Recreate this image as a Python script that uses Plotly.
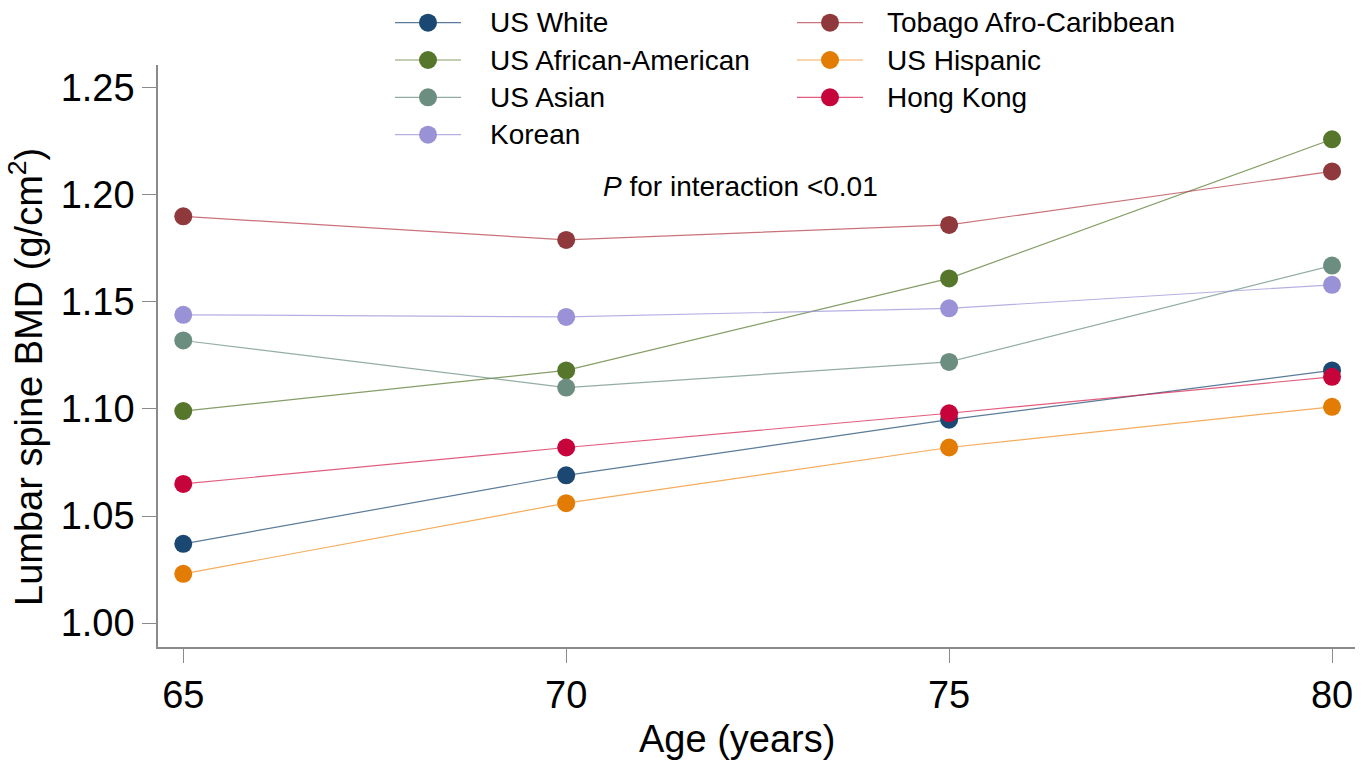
import plotly.graph_objects as go

ages = [65, 70, 75, 80]
y_ticks = [1.00, 1.05, 1.10, 1.15, 1.20, 1.25]

us_white = [1.037, 1.069, 1.095, 1.118]
us_african_american = [1.099, 1.118, 1.161, 1.226]
us_asian = [1.132, 1.110, 1.122, 1.167]
korean = [1.144, 1.143, 1.147, 1.158]
tobago = [1.190, 1.179, 1.186, 1.211]
us_hispanic = [1.023, 1.056, 1.082, 1.101]
hong_kong = [1.065, 1.082, 1.098, 1.115]

series = [
    ("US White", us_white, "#1b4872", "rgba(27,72,114,0.72)"),
    ("US African-American", us_african_american, "#56772b", "rgba(86,119,43,0.72)"),
    ("US Asian", us_asian, "#6b8e80", "rgba(107,142,128,0.72)"),
    ("Korean", korean, "#9a92d7", "rgba(154,146,215,0.72)"),
    ("Tobago Afro-Caribbean", tobago, "#8f393d", "rgba(180,60,70,0.72)"),
    ("US Hispanic", us_hispanic, "#e27c04", "rgba(240,140,30,0.72)"),
    ("Hong Kong", hong_kong, "#c6033b", "rgba(215,30,75,0.72)"),
]

FONT = "Liberation Sans, Arial, sans-serif"
W, H = 1372, 765
L, R, T, B = 158, 17, 65, 118
PW, PH = W - L - R, H - T - B


def px_x(x):
    return (x - L) / PW


def px_y(y):
    return (H - B - y) / PH


fig = go.Figure()
for name, vals, mcol, lcol in series:
    fig.add_trace(go.Scatter(
        x=ages, y=vals, name=name, mode="lines+markers",
        line=dict(color=lcol, width=1.2),
        marker=dict(color=mcol, size=18),
        showlegend=False,
    ))

# two-column key above the plot area
shapes, annotations = [], []
columns = [(395, 461, 428, 488), (797, 863, 830, 885)]
rows = [22.7, 60.0, 97.3, 134.7]
for i, (name, vals, mcol, lcol) in enumerate(series):
    col = 0 if i < 4 else 1
    row = i if i < 4 else i - 4
    x0, x1, xm, xt = columns[col]
    yy = px_y(rows[row])
    shapes.append(dict(type="line", xref="paper", yref="paper", x0=px_x(x0), x1=px_x(x1),
                       y0=yy, y1=yy, line=dict(color=lcol, width=1.2), layer="above"))
    shapes.append(dict(type="circle", xref="paper", yref="paper", xsizemode="pixel",
                       ysizemode="pixel", xanchor=px_x(xm), yanchor=yy, x0=-9, x1=9,
                       y0=-9, y1=9, fillcolor=mcol, line=dict(width=0), layer="above"))
    annotations.append(dict(x=px_x(xt), y=yy, xref="paper", yref="paper", text=name,
                            showarrow=False, xanchor="left", yanchor="middle",
                            font=dict(size=28, family=FONT, color="black")))

annotations.append(dict(
    x=px_x(740), y=px_y(186), xref="paper", yref="paper",
    text="<i>P</i> for interaction <0.01", showarrow=False,
    xanchor="center", yanchor="middle", font=dict(size=28, family=FONT, color="black"),
))

# axis titles
annotations.append(dict(
    x=px_x(737), y=px_y(739), xref="paper", yref="paper", text="Age (years)",
    showarrow=False, xanchor="center", yanchor="middle",
    font=dict(size=38, family=FONT, color="black"),
))
annotations.append(dict(
    x=px_x(26), y=px_y(377), xref="paper", yref="paper",
    text="Lumbar spine BMD (g/cm<sup>2</sup>)", textangle=-90,
    showarrow=False, xanchor="center", yanchor="middle",
    font=dict(size=38, family=FONT, color="black"),
))

fig.update_layout(
    width=W, height=H,
    margin=dict(l=L, r=R, t=T, b=B),
    paper_bgcolor="white", plot_bgcolor="white",
    font=dict(family=FONT, color="black"),
    shapes=shapes, annotations=annotations,
    xaxis=dict(
        range=[64.67, 80.3], tickvals=ages, ticktext=[str(a) for a in ages],
        showgrid=False, zeroline=False, showline=True, linecolor="#8a8a8a",
        linewidth=1.5, ticks="outside", ticklen=14, tickcolor="#8a8a8a", tickwidth=1.2,
        tickfont=dict(size=38),
    ),
    yaxis=dict(
        range=[0.9888, 1.2607], tickvals=y_ticks, tickformat=".2f",
        showgrid=False, zeroline=False, showline=True,
        linecolor="#8a8a8a", linewidth=1.5, ticks="outside", ticklen=14, tickwidth=1.2,
        tickcolor="#8a8a8a", tickfont=dict(size=38),
    ),
)

fig.write_html("out.html")
